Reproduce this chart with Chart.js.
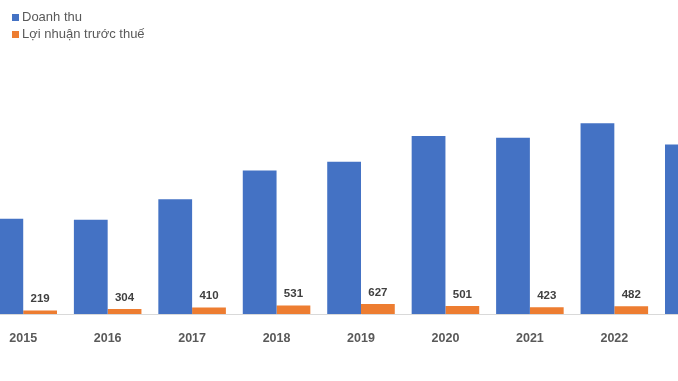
<!DOCTYPE html>
<html>
<head>
<meta charset="utf-8">
<script src="https://cdn.jsdelivr.net/npm/chart.js@4"></script>
<style>
  html, body { margin: 0; padding: 0; background: #fff; }
  body { width: 678px; height: 381px; overflow: hidden; position: relative; font-family: "Liberation Sans", Arial, sans-serif; }
  #wrap { position: absolute; left: -19px; top: 0; width: 760px; height: 381px; }
  #legend { position: absolute; left: 12px; top: 8px; font-size: 13px; color: #595959; }
  #legend div { height: 17px; line-height: 17px; white-space: nowrap; }
  #legend span { display: inline-block; width: 7px; height: 7px; margin-right: 3px; vertical-align: 0px; }
</style>
</head>
<body>
<div id="wrap"><canvas id="myChart"></canvas></div>
<div id="legend"></div>
<script>
const years = ["2015", "2016", "2017", "2018", "2019", "2020", "2021", "2022", "2023"];
const doanhThu = [5920, 5850, 7130, 8910, 9450, 11060, 10940, 11840, 10520];
const loiNhuan = [219, 304, 410, 531, 627, 501, 423, 482, null];
const seriesNames = ["Doanh thu", "Lợi nhuận trước thuế"];
const seriesColors = ["#4472C4", "#ED7D31"];

// nhãn số trên cột lợi nhuận
const valueLabels = {
    id: "valueLabels",
    afterDatasetsDraw(chart) {
        const ctx = chart.ctx;
        const meta = chart.getDatasetMeta(1);
        ctx.save();
        ctx.font = "bold 11.5px 'Liberation Sans', Arial, sans-serif";
        ctx.fillStyle = "#404040";
        ctx.textAlign = "center";
        ctx.textBaseline = "alphabetic";
        meta.data.forEach((bar, i) => {
            if (loiNhuan[i] == null) return;
            ctx.fillText(loiNhuan[i], bar.x, bar.y - 8);
        });
        ctx.restore();
    }
};

const legend = document.getElementById("legend");
seriesNames.forEach((name, i) => {
    const row = document.createElement("div");
    row.innerHTML = `<span style="background:${seriesColors[i]}"></span>${name}`;
    legend.appendChild(row);
});

new Chart(document.getElementById("myChart"), {
    type: "bar",
    data: {
        labels: years,
        datasets: [
            { label: seriesNames[0], data: doanhThu, backgroundColor: seriesColors[0] },
            { label: seriesNames[1], data: loiNhuan, backgroundColor: seriesColors[1] }
        ]
    },
    options: {
        responsive: true,
        maintainAspectRatio: false,
        animation: false,
        categoryPercentage: 0.8,
        barPercentage: 1.0,
        layout: { padding: { top: 0, left: 0, right: 0, bottom: 26 } },
        scales: {
            x: {
                grid: { display: false },
                border: { display: true, color: "#d9d9d9", width: 1 },
                ticks: {
                    padding: 9,
                    color: "#595959",
                    font: { family: "'Liberation Sans', Arial, sans-serif", size: 12.5, weight: "bold" }
                }
            },
            y: { display: false, min: 0, max: 19500 }
        },
        plugins: {
            legend: { display: false },
            tooltip: { enabled: false }
        }
    },
    plugins: [valueLabels]
});
</script>
</body>
</html>
